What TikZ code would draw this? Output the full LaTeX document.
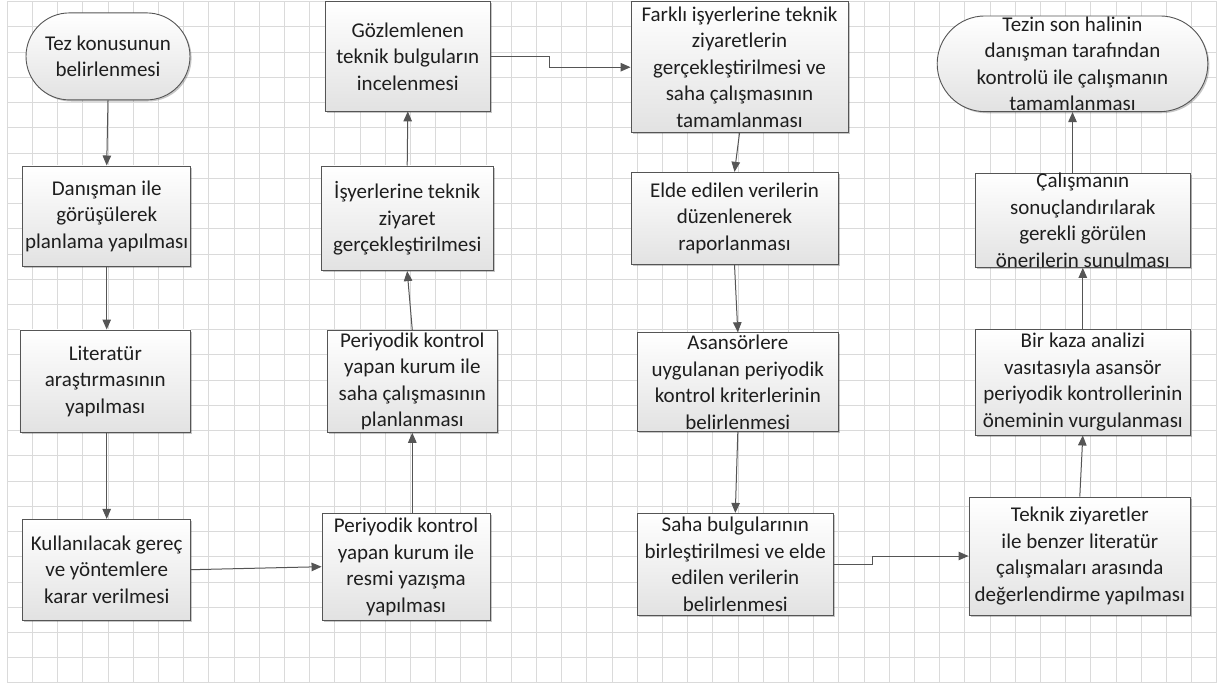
\documentclass[tikz,border=0pt]{standalone}
\usepackage{fontspec}
\setmainfont{Carlito}
\usetikzlibrary{shapes.misc,shadows,arrows.meta,calc}
\definecolor{gridc}{HTML}{DADADA}
\definecolor{linec}{HTML}{555555}
\definecolor{boxbot}{HTML}{E2E2E2}
\definecolor{txt}{HTML}{1E1E1E}
\begin{document}
\begin{tikzpicture}[x=1pt,y=-1pt,
 base/.style={draw=linec, line width=0.9pt, top color=white, bottom color=boxbot,
   font=\fontsize{21}{26.5}\selectfont, text=txt, align=center, inner sep=0pt,
   drop shadow={shadow xshift=1.6pt, shadow yshift=-1.6pt, fill=black, opacity=0.22}},
 proc/.style={base, rectangle},
 term/.style={base, rounded rectangle},
 conn/.style={draw=linec, line width=1pt, -{Triangle[length=10pt,width=8.5pt]}}
]
\useasboundingbox (0,0) rectangle (1223,688);
\fill[white] (0,0) rectangle (1223,688);
\foreach \i in {0,...,48} \draw[gridc, line width=0.9pt] ({7.3+25.2*\i},1.7) -- ({7.3+25.2*\i},683);
\foreach \j in {0,...,27} \draw[gridc, line width=0.9pt] (7.3,{1.7+25.23*\j}) -- (1217,{1.7+25.23*\j});

% column 1
\node[term, minimum width=164pt, minimum height=87pt] (t1) at (108,56.4) {Tez konusunun\\belirlenmesi};
\node[proc, minimum width=168pt, minimum height=100.7pt] (b1) at (106.7,216.3) {Danışman ile\\görüşülerek\\planlama yapılması};
\node[proc, minimum width=170.7pt, minimum height=102.7pt] (b2) at (105.3,381.3) {Literatür\\araştırmasının\\yapılması};
\node[proc, minimum width=168pt, minimum height=100.7pt] (b3) at (106.7,569.7) {Kullanılacak gereç\\ve yöntemlere\\karar verilmesi};
% column 2
\node[proc, minimum width=168pt, minimum height=106.7pt] (c1) at (406,566.7) {Periyodik kontrol\\yapan kurum ile\\resmi yazışma\\yapılması};
\node[proc, minimum width=170pt, minimum height=101.6pt] (c2) at (412.3,381.5) {Periyodik kontrol\\yapan kurum ile\\saha çalışmasının\\planlanması};
\node[proc, minimum width=172.3pt, minimum height=104.7pt] (c3) at (407.2,218.3) {İşyerlerine teknik\\ziyaret\\gerçekleştirilmesi};
\node[proc, minimum width=165.7pt, minimum height=109.3pt] (c4) at (407.8,56.3) {Gözlemlenen\\teknik bulguların\\incelenmesi};
% column 3
\node[proc, minimum width=217pt, minimum height=131pt] (d1) at (739.5,67.2) {Farklı işyerlerine teknik\\ziyaretlerin\\gerçekleştirilmesi ve\\saha çalışmasının\\tamamlanması};
\node[proc, minimum width=207pt, minimum height=92pt] (d2) at (734.5,218.3) {Elde edilen verilerin\\düzenlenerek\\raporlanması};
\node[proc, minimum width=201pt, minimum height=99pt] (d3) at (737.8,382.2) {Asansörlere\\uygulanan periyodik\\kontrol kriterlerinin\\belirlenmesi};
\node[proc, minimum width=196pt, minimum height=101.7pt] (d4) at (735.3,564.2) {Saha bulgularının\\birleştirilmesi ve elde\\edilen verilerin\\belirlenmesi};
% column 4
\node[proc, minimum width=221.7pt, minimum height=118pt] (e1) at (1079.8,556) {Teknik ziyaretler\\ile benzer literatür\\çalışmaları arasında\\değerlendirme yapılması};
\node[proc, minimum width=215.7pt, minimum height=106pt] (e2) at (1082.8,382) {Bir kaza analizi\\vasıtasıyla asansör\\periyodik kontrollerinin\\öneminin vurgulanması};
\node[proc, minimum width=215.7pt, minimum height=92.7pt] (e3) at (1082.8,220.3) {Çalışmanın\\sonuçlandırılarak\\gerekli görülen\\önerilerin sunulması};
\node[term, minimum width=237pt, minimum height=95.7pt] (e4) at (1072.5,63.8) {Tezin son halinin\\danışman tarafından\\kontrolü ile çalışmanın\\tamamlanması};

% connectors
\draw[conn] (t1.south) -- (b1.north);
\draw[conn] (b1.south) -- (b2.north -| b1.south);
\draw[conn] (b2.south -| b1.south) -- (b3.north);
\draw[conn] (b3.east) -- (c1.west);
\draw[conn] (c2.south |- c1.north) -- (c2.south);
\draw[conn] (c2.north) -- (c3.south);
\draw[conn] (c3.north) -- (c4.south);
\draw[conn] (c4.east) -- ++(58.3,0) |- (d1.west);
\draw[conn] (d1.south) -- (d2.north);
\draw[conn] (d2.south) -- (d3.north);
\draw[conn] (d3.south) -- (d4.north);
\draw[conn] (d4.east) -- ++(38.4,0) |- (e1.west);
\draw[conn] (e1.north) -- (e2.south);
\draw[conn] (e2.north) -- (e3.south);
\draw[conn] (e4.south |- e3.north) -- (e4.south);
\end{tikzpicture}
\end{document}
